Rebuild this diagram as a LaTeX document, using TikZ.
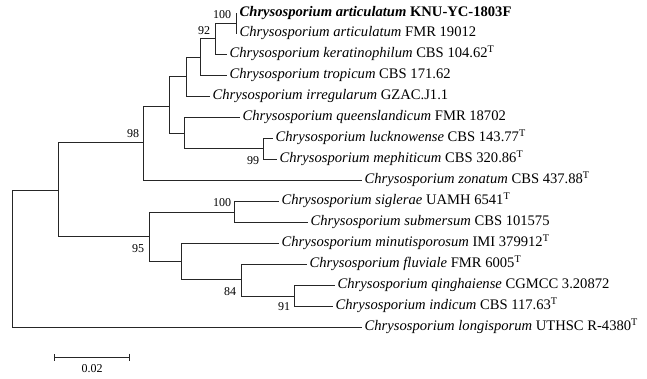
\documentclass[tikz,border=0pt]{standalone}
\usepackage{fontspec}
\setmainfont{Liberation Serif}
\usetikzlibrary{arrows.meta}
\tikzset{
	leaf/.style={anchor=west,inner xsep=2.5pt,inner ysep=0pt,text height=10pt,text depth=3pt,font=\fontsize{14.6}{18}\selectfont},
	boot/.style={inner sep=0pt,font=\fontsize{12}{14}\selectfont},
	branch/.style={line width=0.8pt,black!85}
}
\newcommand{\chr}[1]{\textit{Chrysosporium #1}}
\begin{document}
\begin{tikzpicture}[x=1pt,y=-1pt]
	\useasboundingbox (0,0) rectangle (647,379);
	\coordinate (R) at (12,258.5);
	\coordinate (A) at (58,190);
	\coordinate (B) at (143,142);
	\coordinate (C) at (169,106);
	\coordinate (D) at (186,76);
	\coordinate (E) at (200,57);
	\coordinate (F) at (215,38);
	\coordinate (G) at (236,23);
	\coordinate (H) at (184,133);
	\coordinate (I) at (263,148);
	\coordinate (J) at (149,236);
	\coordinate (K) at (234,212);
	\coordinate (L) at (181,261);
	\coordinate (M) at (241,279);
	\coordinate (N) at (294,296);
	\node[leaf] (t1) at (237,13) {\textbf{\chr{articulatum} KNU-YC-1803F}};
	\node[leaf] (t2) at (237,33) {\chr{articulatum} FMR 19012};
	\node[leaf] (t3) at (227,54) {\chr{keratinophilum} CBS 104.62\textsuperscript{T}};
	\node[leaf] (t4) at (227,75) {\chr{tropicum} CBS 171.62};
	\node[leaf] (t5) at (210,96) {\chr{irregularum} GZAC.J1.1};
	\node[leaf] (t6) at (240,117) {\chr{queenslandicum} FMR 18702};
	\node[leaf] (t7) at (273,138) {\chr{lucknowense} CBS 143.77\textsuperscript{T}};
	\node[leaf] (t8) at (277,159) {\chr{mephiticum} CBS 320.86\textsuperscript{T}};
	\node[leaf] (t9) at (362,180) {\chr{zonatum} CBS 437.88\textsuperscript{T}};
	\node[leaf] (t10) at (279,201) {\chr{siglerae} UAMH 6541\textsuperscript{T}};
	\node[leaf] (t11) at (308,222) {\chr{submersum} CBS 101575};
	\node[leaf] (t12) at (279,243) {\chr{minutisporosum} IMI 379912\textsuperscript{T}};
	\node[leaf] (t13) at (307,264) {\chr{fluviale} FMR 6005\textsuperscript{T}};
	\node[leaf] (t14) at (335,285) {\chr{qinghaiense} CGMCC 3.20872};
	\node[leaf] (t15) at (333,306) {\chr{indicum} CBS 117.63\textsuperscript{T}};
	\node[leaf] (t16) at (362,327) {\chr{longisporum} UTHSC R-4380\textsuperscript{T}};
	\draw[branch] (R) |- (A);
	\draw[branch] (R) |- (t16.west);
	\draw[branch] (A) |- (B);
	\draw[branch] (A) |- (J);
	\draw[branch] (B) |- (C);
	\draw[branch] (B) |- (t9.west);
	\draw[branch] (C) |- (D);
	\draw[branch] (C) |- (H);
	\draw[branch] (D) |- (E);
	\draw[branch] (D) |- (t5.west);
	\draw[branch] (E) |- (F);
	\draw[branch] (E) |- (t4.west);
	\draw[branch] (F) |- (G);
	\draw[branch] (F) |- (t3.west);
	\draw[branch] (G) |- (t1.west);
	\draw[branch] (G) |- (t2.west);
	\draw[branch] (H) |- (t6.west);
	\draw[branch] (H) |- (I);
	\draw[branch] (I) |- (t7.west);
	\draw[branch] (I) |- (t8.west);
	\draw[branch] (J) |- (K);
	\draw[branch] (J) |- (L);
	\draw[branch] (K) |- (t10.west);
	\draw[branch] (K) |- (t11.west);
	\draw[branch] (L) |- (t12.west);
	\draw[branch] (L) |- (M);
	\draw[branch] (M) |- (t13.west);
	\draw[branch] (M) |- (N);
	\draw[branch] (N) |- (t14.west);
	\draw[branch] (N) |- (t15.west);
	\node[boot] (b1) at (222,15) {100};
	\node[boot] (b2) at (204,31) {92};
	\node[boot] (b3) at (133,134) {98};
	\node[boot] (b4) at (253,161) {99};
	\node[boot] (b5) at (222,203) {100};
	\node[boot] (b6) at (138,249) {95};
	\node[boot] (b7) at (230,292) {84};
	\node[boot] (b8) at (284,307) {91};
	\coordinate (s1) at (54,357);
	\coordinate (s2) at (130,357);
	\draw[branch,{Bar[width=7pt]}-{Bar[width=7pt]}] (s1) -- (s2);
	\node[boot] (sl) at (92,369) {0.02};
\end{tikzpicture}
\end{document}
